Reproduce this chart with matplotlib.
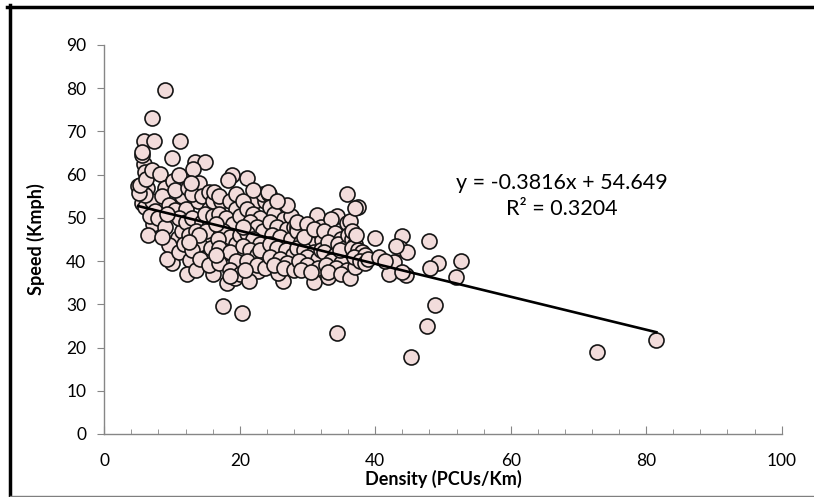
import numpy as np
import matplotlib.pyplot as plt
from matplotlib.lines import Line2D

plt.rcParams['font.family'] = ['Lato', 'DejaVu Sans']

# density (PCUs/Km) and speed (Kmph)
density = [
    # x 5-8
    5.0, 5.5, 6.0, 6.3, 7.0, 7.5, 8.0, 7.2, 5.5, 6.0, 6.8, 5.2, 6.5, 5.8,
    5.5, 5.9, 7.4, 5.3, 6.0, 5.6, 6.2, 7.1,
    # x 8-12
    8.2, 8.9, 9.0, 8.5, 9.5, 10.4, 8.0, 9.0, 10.9, 9.5, 10.0, 9.3, 11.0,
    11.5, 10.2, 11.5, 12.0, 11.0, 10.5, 12.4, 11.8, 12.7, 12.2, 10.0, 11.2,
    8.5, 11.0, 12.0, 12.5, 9.2, 7.1,
    # x 12-16
    13.4, 14.9, 13.1, 13.8, 13.6, 15.1, 15.1, 14.0, 13.0, 14.5, 15.5, 13.0,
    14.5, 15.5, 13.5, 14.0, 15.8, 13.0, 14.2, 16.1, 15.5, 12.8, 14.8, 16.0,
    15.0, 14.0, 12.5, 16.0, 15.5,
    # x 16-20
    17.3, 18.1, 19.3, 17.3, 18.8, 18.3, 17.6, 16.2, 17.0, 18.5, 19.5, 17.0,
    18.0, 19.0, 17.5, 18.5, 16.8, 19.5, 17.0, 18.5, 19.5, 17.0, 18.5, 20.0,
    19.5, 16.5, 20.0, 20.0, 18.5, 16.5,
    # x 20-24
    21.1, 20.3, 22.7, 21.3, 22.3, 20.5, 23.7, 21.0, 22.0, 23.0, 21.5, 22.5,
    23.5, 21.0, 22.0, 23.0, 20.5, 21.5, 22.5, 23.5, 21.0, 22.5, 23.8, 20.8,
    23.5, 24.3, 22.0, 20.5, 23.0,
    # x 24-28
    24.2, 26.0, 26.4, 25.7, 24.5, 25.0, 26.5, 24.5, 25.5, 27.0, 24.8, 26.0,
    27.5, 24.5, 25.5, 26.8, 27.8, 24.5, 26.0, 27.0, 25.0, 26.5, 28.0, 27.5,
    27.0, 25.5, 28.0, 28.5,
    # x 28-32
    29.6, 31.4, 31.0, 28.5, 30.0, 31.0, 29.0, 30.5, 32.1, 28.5, 29.5, 31.0,
    30.0, 31.5, 28.8, 30.0, 31.5, 29.0, 30.5, 28.5, 30.0, 32.0, 29.5, 32.0,
    31.0,
    # x 32-36
    34.3, 33.5, 35.8, 34.3, 33.1, 35.8, 32.5, 34.0, 35.0, 33.0, 34.5, 35.5,
    32.5, 34.0, 35.0, 33.5, 35.0, 32.8, 34.2, 35.8, 33.0, 35.0, 36.0, 36.3,
    34.8,
    # x 36-40
    36.3, 37.5, 37.0, 37.0, 36.5, 37.0, 36.5, 37.5, 38.0, 36.8, 38.5, 37.8,
    38.5, 39.0, 40.0, 36.5, 37.2,
    # x 40 and beyond
    43.9, 43.7, 44.7, 42.8, 42.0, 44.6, 48.0, 49.2, 48.1, 52.7, 51.9, 48.8,
    47.6, 45.3, 40.5, 41.5, 43.0, 44.0, 72.8, 81.5,
]
speed = [
    # x 5-8
    57.3, 53.5, 52.5, 57.0, 54.0, 51.5, 50.0, 48.5, 56.0, 55.3, 50.5, 55.8,
    46.0, 62.4, 64.6, 67.7, 67.8, 57.6, 60.5, 65.2, 59.0, 61.0,
    # x 8-12
    60.1, 79.6, 57.0, 55.0, 53.0, 51.9, 49.9, 48.0, 45.3, 43.8, 39.5, 40.5,
    42.0, 47.0, 58.5, 55.0, 52.0, 50.0, 56.5, 56.9, 44.0, 40.3, 37.0, 63.8,
    67.7, 45.5, 60.0, 49.0, 46.0, 51.0, 73.1,
    # x 12-16
    62.9, 62.9, 61.3, 53.9, 38.0, 41.0, 45.7, 58.0, 55.5, 55.0, 52.0, 50.0,
    49.0, 48.0, 47.0, 44.0, 43.0, 42.5, 40.5, 37.0, 56.0, 58.0, 51.0, 50.5,
    47.0, 46.0, 44.5, 54.0, 39.0,
    # x 16-20
    41.4, 34.9, 36.0, 53.8, 60.0, 58.8, 29.7, 56.0, 55.0, 54.0, 52.0, 51.0,
    50.0, 48.5, 47.0, 45.5, 45.0, 44.0, 43.0, 42.0, 40.0, 39.5, 38.0, 37.0,
    55.5, 48.5, 50.5, 46.0, 36.5, 41.5,
    # x 20-24
    59.3, 28.1, 37.6, 35.3, 54.0, 54.0, 53.8, 52.0, 51.0, 50.0, 49.0, 48.0,
    47.0, 46.5, 45.0, 44.0, 43.5, 42.5, 41.5, 40.5, 40.0, 39.0, 38.5, 38.0,
    55.5, 55.5, 56.5, 48.0, 42.5,
    # x 24-28
    56.1, 52.2, 35.5, 37.2, 52.5, 51.0, 49.7, 49.0, 48.0, 47.5, 46.0, 45.5,
    45.0, 44.0, 43.0, 42.5, 41.5, 41.0, 40.5, 39.5, 39.0, 38.5, 38.0, 50.5,
    53.0, 54.0, 48.0, 48.0,
    # x 28-32
    47.2, 50.7, 35.1, 47.0, 46.0, 45.5, 44.5, 44.0, 44.9, 43.0, 42.5, 42.0,
    41.0, 40.5, 40.0, 39.0, 38.5, 38.0, 37.5, 49.0, 48.5, 48.0, 45.5, 42.5,
    47.5,
    # x 32-36
    50.5, 49.8, 55.5, 23.4, 36.4, 48.8, 47.0, 46.5, 45.0, 44.5, 44.0, 43.0,
    42.0, 41.5, 41.0, 40.0, 39.5, 39.0, 38.5, 38.0, 37.5, 37.0, 46.0, 49.3,
    42.5,
    # x 36-40
    36.0, 52.6, 52.3, 38.7, 45.0, 44.0, 43.0, 42.5, 42.0, 41.0, 41.5, 40.0,
    39.5, 40.5, 45.4, 47.0, 46.0,
    # x 40 and beyond
    45.8, 43.0, 42.2, 39.7, 37.0, 36.7, 44.7, 39.5, 38.4, 40.1, 36.4, 29.9,
    25.0, 17.7, 41.0, 40.0, 43.5, 37.5, 19.0, 21.7,
]

# linear trend line as reported in the chart
slope = -0.3816
intercept = 54.649
r_squared = 0.3204

fig = plt.figure(figsize=(8.14, 4.97), dpi=100)
ax = fig.add_axes([0.1281, 0.1268, 0.8322, 0.7827])

ax.scatter(density, speed, s=117, facecolor='#F2DCDB', edgecolor='#151515',
           linewidth=1.2, zorder=2)

xs = np.array([min(density), max(density)])
ax.plot(xs, slope * xs + intercept, color='black', linewidth=1.9, zorder=3)

ax.text(67.6, 55.0, f'y = {slope}x + {intercept}\nR\u00b2 = {r_squared}',
        ha='center', va='center', fontsize=15.5, linespacing=1.35)

ax.set_xlim(0, 100)
ax.set_ylim(0, 90)
ax.set_xticks(np.arange(0, 101, 20))
ax.set_xticks(np.arange(0, 101, 4), minor=True)
ax.set_yticks(np.arange(0, 91, 10))

for side in ['top', 'right']:
    ax.spines[side].set_visible(False)
for side in ['left', 'bottom']:
    ax.spines[side].set_color('#868686')
    ax.spines[side].set_linewidth(1.0)

ax.tick_params(axis='x', which='major', direction='in', length=6,
               color='#868686', labelsize=12.5, pad=14)
ax.tick_params(axis='x', which='minor', direction='in', length=3.5,
               color='#868686')
ax.tick_params(axis='y', direction='out', length=5, color='#868686',
               labelsize=12.5, pad=8)

ax.set_xlabel('Density (PCUs/Km)', fontsize=13, fontweight='bold',
              labelpad=0)
ax.set_ylabel('Speed (Kmph)', fontsize=13, fontweight='bold', labelpad=15)

# frame around the whole picture, as in the source screenshot
fig.add_artist(Line2D([7 / 814, 1], [1 - 6.5 / 497, 1 - 6.5 / 497],
                      color='black', linewidth=2.5))
fig.add_artist(Line2D([9.5 / 814, 9.5 / 814], [0, 1 - 5 / 497],
                      color='black', linewidth=2.5))
fig.add_artist(Line2D([10 / 814, 1], [1.5 / 497, 1.5 / 497],
                      color='#7f7f7f', linewidth=1.0))

fig.savefig('out.png', dpi=100)
